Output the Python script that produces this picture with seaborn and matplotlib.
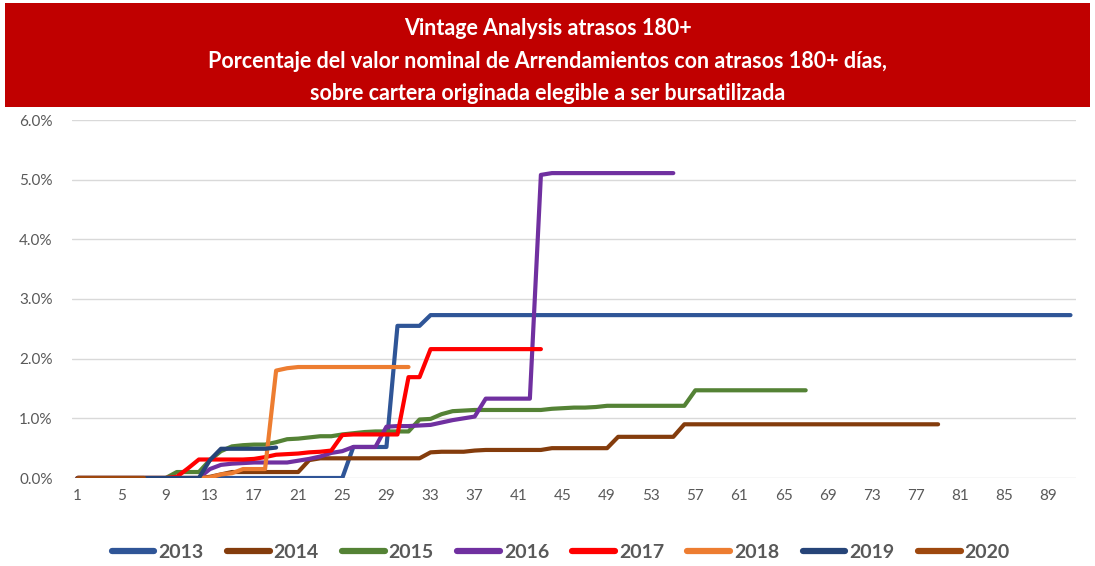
import matplotlib
matplotlib.use("Agg")
import matplotlib.pyplot as plt
from matplotlib.lines import Line2D
from matplotlib.patches import Rectangle
from matplotlib.ticker import FuncFormatter
import seaborn as sns
import pandas as pd

# vintage years and their colours
years = ["2013", "2014", "2015", "2016", "2017", "2018", "2019", "2020"]
colors = ["#2F5597", "#843C0C", "#548235", "#7030A0",
          "#FF0000", "#ED7D31", "#264478", "#9E480E"]

# % of nominal value with 180+ days arrears, by month since origination (1..n)
v2013 = [0.0] * 25 + [0.52] * 4 + [2.55] * 3 + [2.73] * 59
v2014 = ([0.0] * 12 + [0.02, 0.06] + [0.10] * 7 + [0.30] + [0.33] * 10
         + [0.43] + [0.44] * 3 + [0.46] + [0.47] * 6 + [0.50] * 6
         + [0.69] * 6 + [0.90] * 24)
v2015 = ([0.0] * 9 + [0.10] * 3 + [0.30, 0.45, 0.53, 0.55, 0.56, 0.56,
         0.60, 0.65, 0.66, 0.68, 0.70, 0.70, 0.73, 0.75, 0.77]
         + [0.78] * 4 + [0.98, 0.99, 1.07, 1.12, 1.13] + [1.14] * 7
         + [1.16, 1.17, 1.18, 1.18, 1.19] + [1.21] * 8 + [1.47] * 11)
v2016 = ([0.0] * 12 + [0.15, 0.22, 0.24, 0.25] + [0.26] * 4
         + [0.29, 0.32, 0.36, 0.42, 0.45] + [0.52] * 3
         + [0.86, 0.87, 0.87, 0.88, 0.89, 0.93, 0.97, 1.00, 1.03]
         + [1.33] * 5 + [5.08] + [5.11] * 12)
v2017 = ([0.0] * 9 + [0.02, 0.16] + [0.31] * 5
         + [0.32, 0.35, 0.39, 0.40, 0.41, 0.43, 0.44, 0.46, 0.72]
         + [0.73] * 5 + [1.69] * 2 + [2.16] * 11)
v2018 = [0.0] * 12 + [0.01, 0.06, 0.08] + [0.15] * 3 + [1.80, 1.84] + [1.86] * 11
v2019 = [0.0] * 12 + [0.30] + [0.49] * 5 + [0.51]
v2020 = [0.0] * 7

series = [v2013, v2014, v2015, v2016, v2017, v2018, v2019, v2020]
x_ticks = list(range(1, 90, 4))

title = ("Vintage Analysis atrasos 180+\n"
         "Porcentaje del valor nominal de Arrendamientos con atrasos 180+ días,\n"
         "sobre cartera originada elegible a ser bursatilizada")

rows = []
for year, vals in zip(years, series):
    for i, v in enumerate(vals):
        rows.append({"mes": i + 1, "valor": v, "vintage": year})
df = pd.DataFrame(rows)

sns.set_style("white")
plt.rcParams["font.family"] = ["Lato", "DejaVu Sans"]

fig = plt.figure(figsize=(10.95, 5.66), dpi=100)
ax = fig.add_axes([72 / 1095, 1 - 478 / 566, 1004 / 1095, 358 / 566])

sns.lineplot(data=df, x="mes", y="valor", hue="vintage", hue_order=years,
             palette=colors, estimator=None, linewidth=3.0,
             solid_capstyle="round", solid_joinstyle="round",
             legend=False, ax=ax)

ax.set_xlim(0.5, 91.5)
ax.set_ylim(0, 6)
ax.set_yticks([0, 1, 2, 3, 4, 5, 6])
ax.yaxis.set_major_formatter(FuncFormatter(lambda v, p: f"{v:.1f}%"))
ax.set_xticks(x_ticks)
ax.set_xticklabels([str(t) for t in x_ticks])
ax.set_xlabel("")
ax.set_ylabel("")
ax.grid(axis="y", color="#D9D9D9", linewidth=1.0)
ax.set_axisbelow(True)
for s in ax.spines.values():
    s.set_visible(False)
ax.tick_params(axis="both", length=0, colors="#595959", labelsize=11)
ax.tick_params(axis="y", pad=14)
ax.tick_params(axis="x", pad=8)

# red title banner
fig.patches.append(Rectangle((5 / 1095, 1 - 107 / 566), 1085 / 1095, 104 / 566,
                             transform=fig.transFigure, facecolor="#C00000",
                             edgecolor="none", zorder=0))
fig.text(0.5, 1 - 61 / 566, title, ha="center", va="center", color="white",
         fontsize=15.5, fontweight="bold", linespacing=1.65)

handles = [Line2D([0], [0], color=c, lw=4.5, solid_capstyle="round") for c in colors]
fig.legend(handles, years, loc="center", bbox_to_anchor=(0.512, 1 - 552 / 566),
           ncol=8, frameon=False, handlelength=2.2, handletextpad=0.2,
           columnspacing=1.2, prop={"weight": "bold", "size": 14},
           labelcolor="#595959")

fig.savefig("out.png", dpi=100)
